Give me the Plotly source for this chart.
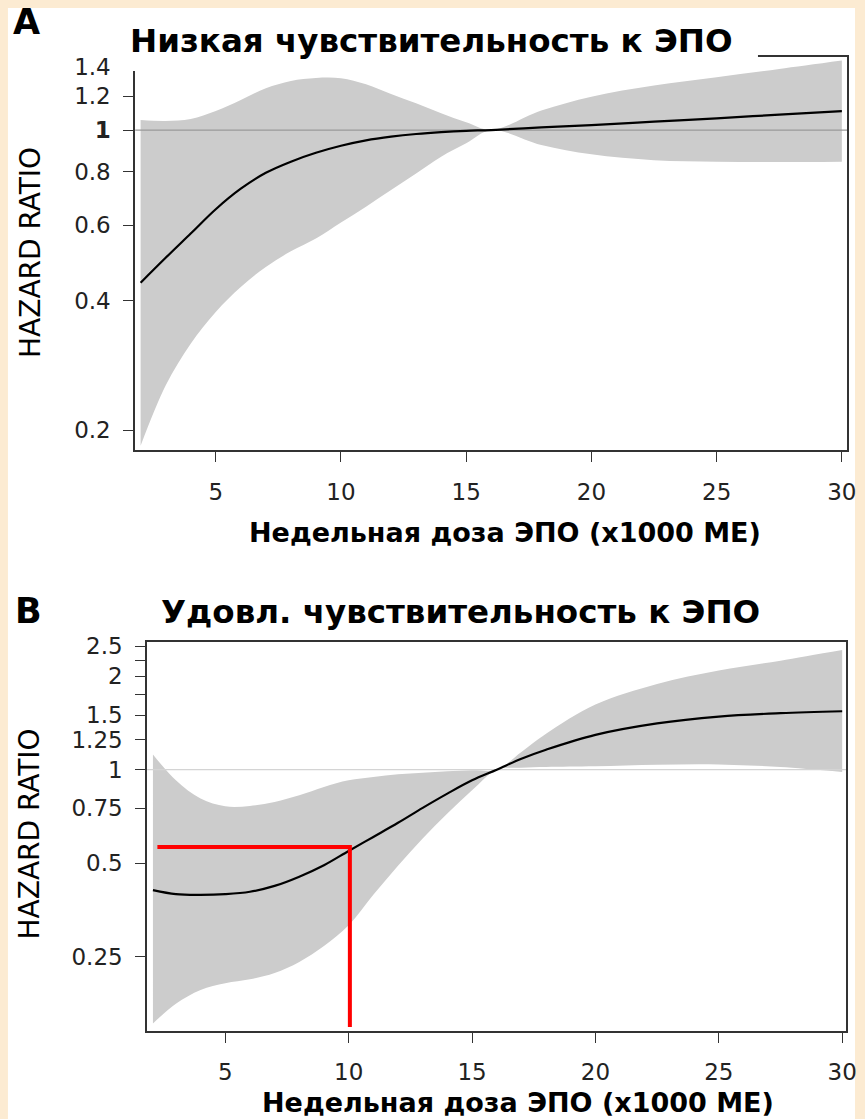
import plotly.graph_objects as go

W, H = 865, 1119

# Panel A: low sensitivity to EPO
dose_a = [2, 3, 4, 5, 6, 7, 8, 9, 10, 11, 12, 13, 14, 15, 16, 18, 20, 22.5, 25, 27.5, 30]
hr_a = [0.441, 0.504, 0.574, 0.654, 0.730, 0.795, 0.844, 0.885, 0.919, 0.946, 0.965, 0.979, 0.989,
        0.996, 1.0, 1.014, 1.027, 1.046, 1.065, 1.086, 1.107]
lo_a = [0.184, 0.254, 0.318, 0.377, 0.431, 0.480, 0.522, 0.559, 0.609, 0.663, 0.725, 0.792, 0.867,
        0.931, 1.0, 0.923, 0.878, 0.851, 0.844, 0.842, 0.844]
hi_a = [1.055, 1.050, 1.061, 1.107, 1.175, 1.251, 1.301, 1.322, 1.320, 1.278, 1.213, 1.154, 1.094,
        1.042, 1.0, 1.110, 1.196, 1.269, 1.327, 1.387, 1.451]

# Panel B: adequate sensitivity to EPO
dose_b = [2.07, 3, 4, 5, 6, 7, 8, 9, 10, 11, 12, 13, 14, 15, 16, 17, 18, 20, 22.5, 25, 27.5, 30]
hr_b = [0.409, 0.397, 0.395, 0.397, 0.404, 0.422, 0.452, 0.492, 0.547, 0.607, 0.674, 0.753, 0.837,
        0.924, 1.0, 1.085, 1.160, 1.295, 1.410, 1.483, 1.521, 1.543]
lo_b = [0.152, 0.176, 0.195, 0.205, 0.211, 0.221, 0.240, 0.270, 0.315, 0.395, 0.490, 0.600, 0.722,
        0.858, 1.0, 1.015, 1.020, 1.025, 1.038, 1.040, 1.020, 0.983]
hi_b = [1.120, 0.924, 0.807, 0.762, 0.764, 0.787, 0.827, 0.880, 0.924, 0.947, 0.966, 0.978, 0.988,
        0.995, 1.0, 1.140, 1.305, 1.622, 1.890, 2.086, 2.246, 2.430]

# Highlighted reading on panel B: dose 10 -> HR ~0.56
mark_dose = 10
mark_hr = 0.563
mark_x_start = 2.25
mark_y_floor = 0.148

x_ticks = [5, 10, 15, 20, 25, 30]
y_ticks_a = [0.2, 0.4, 0.6, 0.8, 1, 1.2, 1.4]
y_text_a = ["0.2", "0.4", "0.6", "0.8", "<b>1</b>", "1.2", "1.4"]
y_ticks_b = [0.25, 0.5, 0.75, 1, 1.25, 1.5, 1.75, 2, 2.25, 2.5]
y_text_b = ["0.25", "0.5", "0.75", "1", "1.25", "1.5", "", "2", "", "2.5"]

x_range_a = [1.78, 30.22]
y_range_a = [-0.746, 0.170]
x_range_b = [1.83, 30.17]
y_range_b = [-0.842, 0.413]

title_a = "Низкая чувствительность к ЭПО"
title_b = "Удовл. чувствительность к ЭПО"
x_title = "Недельная доза ЭПО (x1000 МЕ)"
y_title = "HAZARD RATIO"

BAND = "#cccccc"
AXIS = "#333333"
FONT = "DejaVu Sans"


# page-pixel helpers (layout positions measured in pixels from the top-left corner)
def fx(px):
    return min(1.0, (px / 0.995) / W)


def fy(py):
    return 1 - ((py - 9) / 0.992) / H


fig = go.Figure()


def add_panel(xs, mid, lo, hi, xa, ya, x_range, ref_color):
    fig.add_trace(go.Scatter(x=xs, y=lo, mode="lines", line=dict(width=0, color="rgba(0,0,0,0)", shape="spline"),
                             xaxis=xa, yaxis=ya, showlegend=False, hoverinfo="skip"))
    fig.add_trace(go.Scatter(x=xs, y=hi, mode="lines", line=dict(width=0, color="rgba(0,0,0,0)", shape="spline"),
                             fill="tonexty", fillcolor=BAND,
                             xaxis=xa, yaxis=ya, showlegend=False, hoverinfo="skip"))
    fig.add_trace(go.Scatter(x=x_range, y=[1, 1], mode="lines", line=dict(width=1.2, color=ref_color),
                             xaxis=xa, yaxis=ya, showlegend=False, hoverinfo="skip"))
    fig.add_trace(go.Scatter(x=xs, y=mid, mode="lines", line=dict(width=2.2, color="black", shape="spline"),
                             xaxis=xa, yaxis=ya, showlegend=False))


add_panel(dose_a, hr_a, lo_a, hi_a, "x", "y", x_range_a, "#9a9a9a")
add_panel(dose_b, hr_b, lo_b, hi_b, "x2", "y2", x_range_b, "#d4d4d4")

# red guide lines at the highlighted dose
fig.add_trace(go.Scatter(x=[mark_x_start, mark_dose + 0.05, mark_dose + 0.05],
                         y=[mark_hr, mark_hr, mark_y_floor], mode="lines",
                         line=dict(width=4, color="#ff0000"), xaxis="x2", yaxis="y2",
                         showlegend=False, hoverinfo="skip"))

axis_common = dict(showline=True, mirror=True, linecolor=AXIS, linewidth=1.5,
                   ticks="outside", ticklen=10, tickwidth=1.2, tickcolor=AXIS,
                   showgrid=False, zeroline=False,
                   tickfont=dict(family=FONT, size=23, color="#222222"))

fig.update_layout(
    width=W, height=H,
    margin=dict(l=0, r=0, t=0, b=0),
    paper_bgcolor="#fcebd2",
    plot_bgcolor="white",
    xaxis=dict(domain=[fx(136), fx(853)], range=x_range_a, tickvals=x_ticks,
               ticklabelstandoff=10, ticklabeloverflow="allow", anchor="y", **axis_common),
    yaxis=dict(domain=[fy(451), fy(58)], type="log", range=y_range_a, tickvals=y_ticks_a,
               ticktext=y_text_a, ticklabelstandoff=8, anchor="x", **axis_common),
    xaxis2=dict(domain=[fx(148), fx(852)], range=x_range_b, tickvals=x_ticks,
                ticklabelstandoff=10, ticklabeloverflow="allow", anchor="y2", **axis_common),
    yaxis2=dict(domain=[fy(1031), fy(642)], type="log", range=y_range_b, tickvals=y_ticks_b,
                ticktext=y_text_b, ticklabelstandoff=8, anchor="x2", **axis_common),
    shapes=[
        # white page with a cream edge on the left and top
        dict(type="rect", xref="paper", yref="paper", x0=fx(8), x1=1, y0=0, y1=min(1, fy(7)),
             fillcolor="white", line=dict(width=0), layer="below"),
        # white box behind the panel A heading
        dict(type="rect", xref="paper", yref="paper", x0=fx(120), x1=fx(763), y0=fy(72), y1=min(1, fy(7)),
             fillcolor="white", line=dict(width=0), layer="above"),
    ],
    annotations=[
        dict(text="A", x=fx(11), y=fy(23), xref="paper", yref="paper", xanchor="left", yanchor="middle",
             showarrow=False, font=dict(family=FONT, size=35, color="black", weight="bold")),
        dict(text=title_a, x=fx(434), y=fy(42), xref="paper", yref="paper", xanchor="center", yanchor="middle",
             showarrow=False, font=dict(family=FONT, size=32.5, color="black", weight="bold")),
        dict(text=x_title, x=fx(508), y=fy(533), xref="paper", yref="paper", xanchor="center", yanchor="middle",
             showarrow=False, font=dict(family=FONT, size=27, color="black", weight="bold")),
        dict(text=y_title, x=fx(30), y=fy(253), xref="paper", yref="paper", xanchor="center", yanchor="middle",
             textangle=-90, showarrow=False, font=dict(family=FONT, size=28, color="black")),
        dict(text="B", x=fx(13), y=fy(611), xref="paper", yref="paper", xanchor="left", yanchor="middle",
             showarrow=False, font=dict(family=FONT, size=35, color="black", weight="bold")),
        dict(text=title_b, x=fx(464), y=fy(612), xref="paper", yref="paper", xanchor="center", yanchor="middle",
             showarrow=False, font=dict(family=FONT, size=32.5, color="black", weight="bold")),
        dict(text=x_title, x=fx(521), y=fy(1103), xref="paper", yref="paper", xanchor="center", yanchor="middle",
             showarrow=False, font=dict(family=FONT, size=27, color="black", weight="bold")),
        dict(text=y_title, x=fx(30), y=fy(834), xref="paper", yref="paper", xanchor="center", yanchor="middle",
             textangle=-90, showarrow=False, font=dict(family=FONT, size=28, color="black")),
    ],
)

fig.write_html("out.html")
